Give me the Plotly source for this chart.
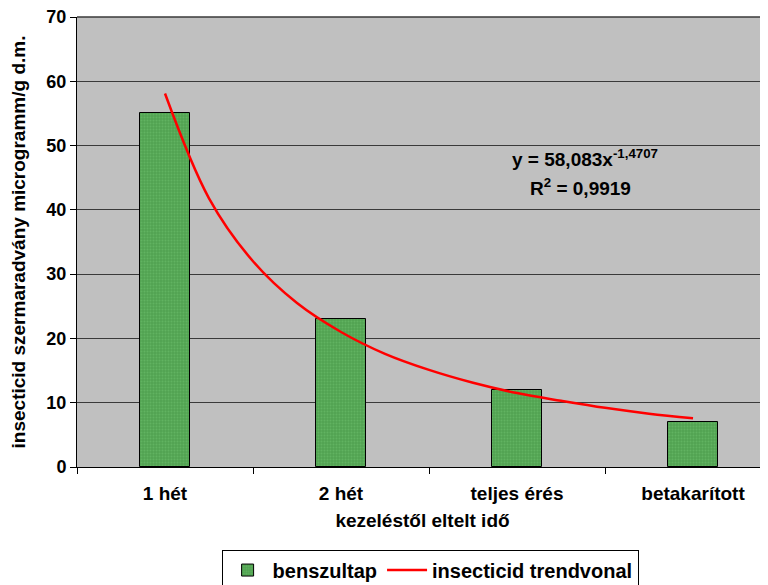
import plotly.graph_objects as go

categories = ["1 hét", "2 hét", "teljes érés", "betakarított"]
bar_values = [55, 23, 12, 7]
trend_x = [1, 1.25, 1.5, 1.75, 2, 2.25, 2.5, 2.75, 3, 3.25, 3.5, 3.75, 4]
trend_y = [58.1, 41.8, 32.0, 25.5, 21.0, 17.6, 15.1, 13.1, 11.5, 10.3, 9.2, 8.3, 7.6]
cat_pos = [1, 2, 3, 4]
boundaries = [0.5, 1.5, 2.5, 3.5, 4.5]

FONT = "Arial, Liberation Sans, sans-serif"

fig = go.Figure()
fig.add_trace(go.Bar(
    x=cat_pos, y=bar_values, name="<b>benszultap</b>", width=0.284,
    marker=dict(color="#58AC58", line=dict(color="black", width=1),
                pattern=dict(shape=".", fgcolor="#6FC46F", bgcolor="#52A352", size=3, solidity=0.3)),
))
fig.add_trace(go.Scatter(
    x=trend_x, y=trend_y, mode="lines", name="<b>insecticid trendvonal</b>",
    line=dict(color="#FF0000", width=2.5, shape="spline"),
))
# label axis
fig.add_trace(go.Scatter(x=cat_pos, y=[None]*4, xaxis="x2", showlegend=False, hoverinfo="skip"))

fig.update_layout(
    width=760, height=577,
    margin=dict(l=69, r=0, t=9, b=118, autoexpand=False),
    paper_bgcolor="white", plot_bgcolor="#C0C0C0",
    font=dict(family=FONT, size=19, color="black"),
    bargap=0,
    xaxis=dict(range=[0.5, 4.426], tickvals=boundaries, showticklabels=False,
               ticks="outside", ticklen=6, tickcolor="black", automargin=False,
               showline=True, linecolor="black", linewidth=1, showgrid=False, zeroline=False,
               title=dict(text="<b>kezeléstől eltelt idő</b>", font=dict(size=19), standoff=40)),
    xaxis2=dict(overlaying="x", matches="x", tickvals=cat_pos, ticktext=[f"<b>{c}</b>" for c in categories],
                side="bottom", ticks="", showgrid=False, showline=False, zeroline=False,
                tickfont=dict(size=19), anchor="y", ticklabelstandoff=13, automargin=False),
    yaxis=dict(range=[0, 70], dtick=10, ticks="outside", ticklen=6, tickcolor="black",
               showline=True, linecolor="black", linewidth=1, mirror=False, automargin=False,
               gridcolor="#3A3A3A", gridwidth=1.3, zeroline=False, ticklabeloverflow="allow",
               tickfont=dict(size=18), tickprefix="<b>", ticksuffix="</b>",
               title=dict(text="<b>insecticid szermaradvány microgramm/g d.m.</b>", font=dict(size=19), standoff=19)),
    legend=dict(orientation="h", x=0.511, xanchor="center", y=-0.229, yanchor="middle",
                bordercolor="black", borderwidth=1, bgcolor="white",
                font=dict(size=20), itemwidth=40, tracegroupgap=0),
    showlegend=True,
)

fig.add_annotation(x=(585-77)/691, y=(467-158)/450, xref="paper", yref="paper", showarrow=False,
                   xanchor="center", yanchor="middle",
                   text="<b>y = 58,083x<sup>-1,4707</sup></b>", font=dict(size=19))
fig.add_annotation(x=(580-77)/691, y=(467-187)/450, xref="paper", yref="paper", showarrow=False,
                   xanchor="center", yanchor="middle",
                   text="<b>R<sup>2</sup> = 0,9919</b>", font=dict(size=19))
# top border line
fig.add_shape(type="line", xref="paper", yref="paper", x0=0, x1=1, y0=1, y1=1,
              line=dict(color="#3A3A3A", width=1.5))

fig.write_html("out.html")
